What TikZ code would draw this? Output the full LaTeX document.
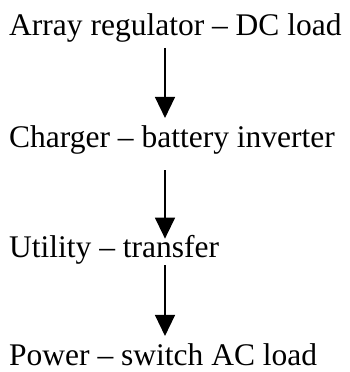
\documentclass[tikz,border=0pt]{standalone}
\usepackage{fontspec}
\setmainfont{Liberation Serif}
\usetikzlibrary{arrows.meta}
\begin{document}
\begin{tikzpicture}[x=1pt,y=-1pt,
  lbl/.style={anchor=base west,inner sep=0pt,font=\fontsize{31.5}{36}\selectfont},
  arr/.style={line width=1.4pt,-{Triangle[width=20pt,length=21pt]}}]
\useasboundingbox (0,0) rectangle (350,372);
\node[lbl] (a) at (9,35) {Array regulator – DC load};
\node[lbl] (b) at (9,147) {Charger – battery inverter};
\node[lbl] (c) at (9,257) {Utility – transfer};
\node[lbl] (d) at (9,365) {Power – switch AC load};
\coordinate (ax) at (165,0);
\draw[arr] ([yshift=-6pt]a.south -| ax) -- ([yshift=7pt]b.north -| ax);
\draw[arr] ([yshift=-16pt]b.south -| ax) -- ([yshift=-4pt]c.north -| ax);
\draw[arr] ([yshift=-1pt]c.south -| ax) -- ([yshift=7pt]d.north -| ax);
\end{tikzpicture}
\end{document}
